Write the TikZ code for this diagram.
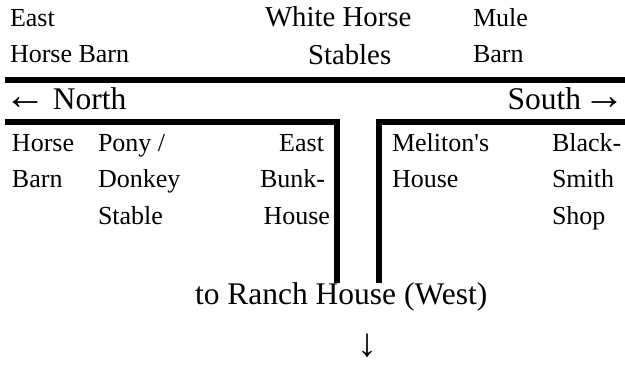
\documentclass[tikz,border=0pt]{standalone}
\usepackage{fontspec}
\setmainfont{Liberation Serif}[Ligatures=TeXOff]
\newcommand{\bigarrow}[1]{{\fontsize{42}{42}\selectfont #1}}
\begin{document}
\begin{tikzpicture}[x=1pt,y=-1pt,
  lbl/.style={inner sep=0pt, outer sep=0pt, anchor=base west, font=\fontsize{26}{30}\selectfont},
  lblr/.style={lbl, anchor=base east},
  mid/.style={lbl, font=\fontsize{28.8}{33}\selectfont},
  big/.style={lbl, font=\fontsize{31.5}{36}\selectfont},
  bigr/.style={big, anchor=base east},
  road/.style={line width=6pt, line join=miter, line cap=butt}]
\useasboundingbox (0,0) rectangle (625,366);
% roads
\draw[road] (5,79.7) -- (625,79.7);
\draw[road] (5,122) -- (337,122) -- (337,283.3);
\draw[road] (625,122) -- (379,122) -- (379,283.3);
% top row
\node[lbl] (eh1) at (10,27) {East};
\node[lbl] (eh2) at (10,63) {Horse Barn};
\node[mid] (wh1) at (265,27) {White Horse};
\node[mid] (wh2) at (308,65) {Stables};
\node[lbl] (mb1) at (473,27) {Mule};
\node[lbl] (mb2) at (473,63) {Barn};
% directions
\node[big] (north) at (5,110) {\bigarrow{←}\kern-2pt{} North};
\node[bigr] (south) at (625,110) {South\kern-6pt{} \bigarrow{→}};
% lower left
\node[lbl] (hb1) at (12,152) {Horse};
\node[lbl] (hb2) at (12,188) {Barn};
\node[lbl] (pd1) at (98,152) {Pony /};
\node[lbl] (pd2) at (98,188) {Donkey};
\node[lbl] (pd3) at (98,225) {Stable};
\node[lblr] (eb1) at (324,152) {East};
\node[lblr] (eb2) at (325,188) {Bunk-};
\node[lblr] (eb3) at (330,225) {House};
% lower right
\node[lbl] (mh1) at (392,152) {Meliton's};
\node[lbl] (mh2) at (392,188) {House};
\node[lbl] (bs1) at (552,152) {Black-};
\node[lbl] (bs2) at (552,188) {Smith};
\node[lbl] (bs3) at (552,225) {Shop};
% bottom
\node[big] (ranch) at (195,305) {to Ranch House (West)};
\node[inner sep=0pt, anchor=base, text depth=0pt, font=\fontsize{40}{40}\selectfont] (down) at (367,357) {↓};
\end{tikzpicture}
\end{document}
